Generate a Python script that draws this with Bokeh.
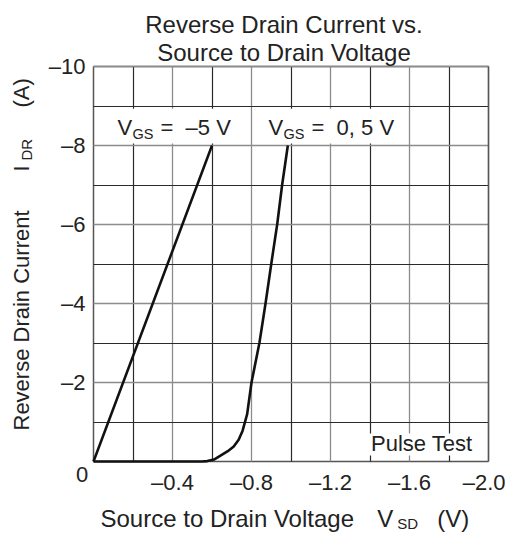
import math
from bokeh.plotting import figure
from bokeh.models import Range1d, FixedTicker, Label, BoxAnnotation, LinearAxis
from bokeh.embed import file_html
from bokeh.resources import INLINE

# ---------------- data ----------------
x_major_ticks = [-0.4, -0.8, -1.2, -1.6, -2.0]
x_minor_ticks = [-0.2, -0.6, -1.0, -1.4, -1.8]
x_tick_labels = ["\u20130.4", "\u20130.8", "\u20131.2", "\u20131.6", "\u20132.0"]
y_major_ticks = [-2, -4, -6, -8, -10]
y_minor_ticks = [-1, -3, -5, -7, -9]
y_tick_labels = ["\u20132", "\u20134", "\u20136", "\u20138", "\u201310"]
x_lim = (0.0, -2.0)
y_lim = (0.0, -10.0)

# V_GS = -5 V
vsd_m5 = [0.0, -0.6]
idr_m5 = [0.0, -8.0]

# V_GS = 0, 5 V
vsd_05 = [0.0, -0.30, -0.55, -0.576, -0.61, -0.643, -0.68, -0.71, -0.735,
          -0.755, -0.778, -0.80, -0.84, -0.871, -0.90, -0.93, -0.955, -0.984]
idr_05 = [0.0, 0.0, 0.0, -0.01, -0.05, -0.15, -0.26, -0.38, -0.55,
          -0.78, -1.2, -2.0, -3.0, -4.0, -5.0, -6.0, -7.0, -8.0]

# ---------------- layout ----------------
W, H = 505, 533
PL, PR, PT, PB = 93, 488, 66, 461      # plot-area edges in canvas px
PW, PH = PR - PL, PB - PT
FONT = "Liberation Sans"
TXT = "#222222"
GRAY = "#8c8c8c"
DARK = "#2a2a2a"
EDGE = "#555555"

sx = (x_lim[1] - x_lim[0]) / PW          # data per px (x)
sy = (y_lim[1] - y_lim[0]) / PH          # data per px (y, upward)
xr = Range1d(start=x_lim[0] - PL * sx, end=x_lim[1] + (W - PR) * sx)
yr = Range1d(start=y_lim[0] - (H - PB) * sy, end=y_lim[1] + PT * sy)

p = figure(width=W, height=H, output_backend="svg", toolbar_location=None,
           x_range=xr, y_range=yr, min_border=0)
p.background_fill_color = "white"
p.border_fill_color = "white"
p.outline_line_color = None
p.grid.visible = False

xt = FixedTicker(ticks=x_major_ticks, minor_ticks=x_minor_ticks)
yt = FixedTicker(ticks=y_major_ticks, minor_ticks=y_minor_ticks)

xa = p.xaxis[0]
ya = p.yaxis[0]
xa.ticker = xt
ya.ticker = yt
xa.fixed_location = y_lim[0]
ya.fixed_location = x_lim[0]
xa.bounds = (min(x_lim), max(x_lim))
ya.bounds = (min(y_lim), max(y_lim))
xa.major_label_overrides = {t: l for t, l in zip(x_major_ticks, x_tick_labels)}
ya.major_label_overrides = {t: l for t, l in zip(y_major_ticks, y_tick_labels)}
for ax, length in ((xa, PH), (ya, PW)):
    ax.level = "underlay"
    ax.axis_line_color = EDGE
    ax.axis_line_width = 1.5
    ax.major_tick_in = length
    ax.major_tick_out = 0
    ax.minor_tick_in = length
    ax.minor_tick_out = 0
    ax.major_tick_line_color = GRAY
    ax.major_tick_line_width = 1.3
    ax.minor_tick_line_color = DARK
    ax.minor_tick_line_width = 1.2
    ax.major_label_text_font = FONT
    ax.major_label_text_font_size = "22px"
    ax.major_label_text_color = TXT
xa.major_label_standoff = 8
ya.major_label_standoff = 8

# top and right border of the plot area
for loc, side, bnds in ((y_lim[1], "above", xa.bounds), (x_lim[1], "right", ya.bounds)):
    b = LinearAxis(fixed_location=loc, bounds=bnds, ticker=FixedTicker(ticks=[]),
                   axis_line_color=EDGE, axis_line_width=1.5,
                   major_tick_line_color=None, minor_tick_line_color=None,
                   major_label_text_font_size="0px", level="underlay")
    p.add_layout(b, side)

# curves
p.line(vsd_m5, idr_m5, line_color="#111111", line_width=2.6, line_join="round")
p.line(vsd_05, idr_05, line_color="#111111", line_width=2.6, line_join="round")

# white boxes behind in-plot labels
for l, r, b_, t in [(-0.09, -0.74, -8.05, -8.93), (-0.856, -1.554, -8.05, -8.93),
                    (-1.36, -1.99, -0.15, -0.71)]:
    p.add_layout(BoxAnnotation(left=l, right=r, bottom=b_, top=t,
                               fill_color="white", fill_alpha=1.0, line_color=None))


def lab(text, fx, fy_base, size, align="left", angle=0.0):
    """Text whose baseline sits at canvas px (fx, fy_base); drawn with a middle baseline."""
    shift = 0.35 * size
    if angle:
        fx, fy = fx - shift, fy_base
    else:
        fy = fy_base - shift
    p.add_layout(Label(x=x_lim[0], y=y_lim[0], x_units="data", y_units="data",
                       x_offset=fx - PL, y_offset=PB - fy, text=text,
                       text_font=FONT, text_font_size=f"{size}px",
                       text_color=TXT, text_align=align, text_baseline="middle",
                       angle=angle))


NB = "\u00a0"

# title
lab("Reverse Drain Current vs.", 283.5, 32, 24, align="center")
lab("Source to Drain Voltage", 283.5, 60, 24, align="center")

# corner zero
lab("0", 81.7, 482, 22, align="center")

# x axis label
lab("Source to Drain Voltage", 100, 526, 24)
lab("V", 376.7, 526, 24)
lab("SD", 396.7, 528.5, 15)
lab("(V)", 436.7, 526, 24)

# y axis label (rotated)
A = math.pi / 2
lab("Reverse Drain Current", 28.3, 430, 22, angle=A)
lab("I", 28.3, 171, 22, angle=A)
lab("DR", 31.7, 160, 15, angle=A)
lab("(A)", 28.3, 107, 22, angle=A)

# curve labels
lab("V", 117, 134.3, 22)
lab("GS", 132, 138.3, 14.5)
lab("=" + NB + NB + "\u20135 V", 160, 134.3, 22)
lab("V", 268, 134.3, 22)
lab("GS", 283, 138.3, 14.5)
lab("=" + NB + NB + "0, 5 V", 311, 134.3, 22)

# pulse test
lab("Pulse Test", 472, 451, 22, align="right")

open("out.html", "w").write(file_html(p, INLINE))
